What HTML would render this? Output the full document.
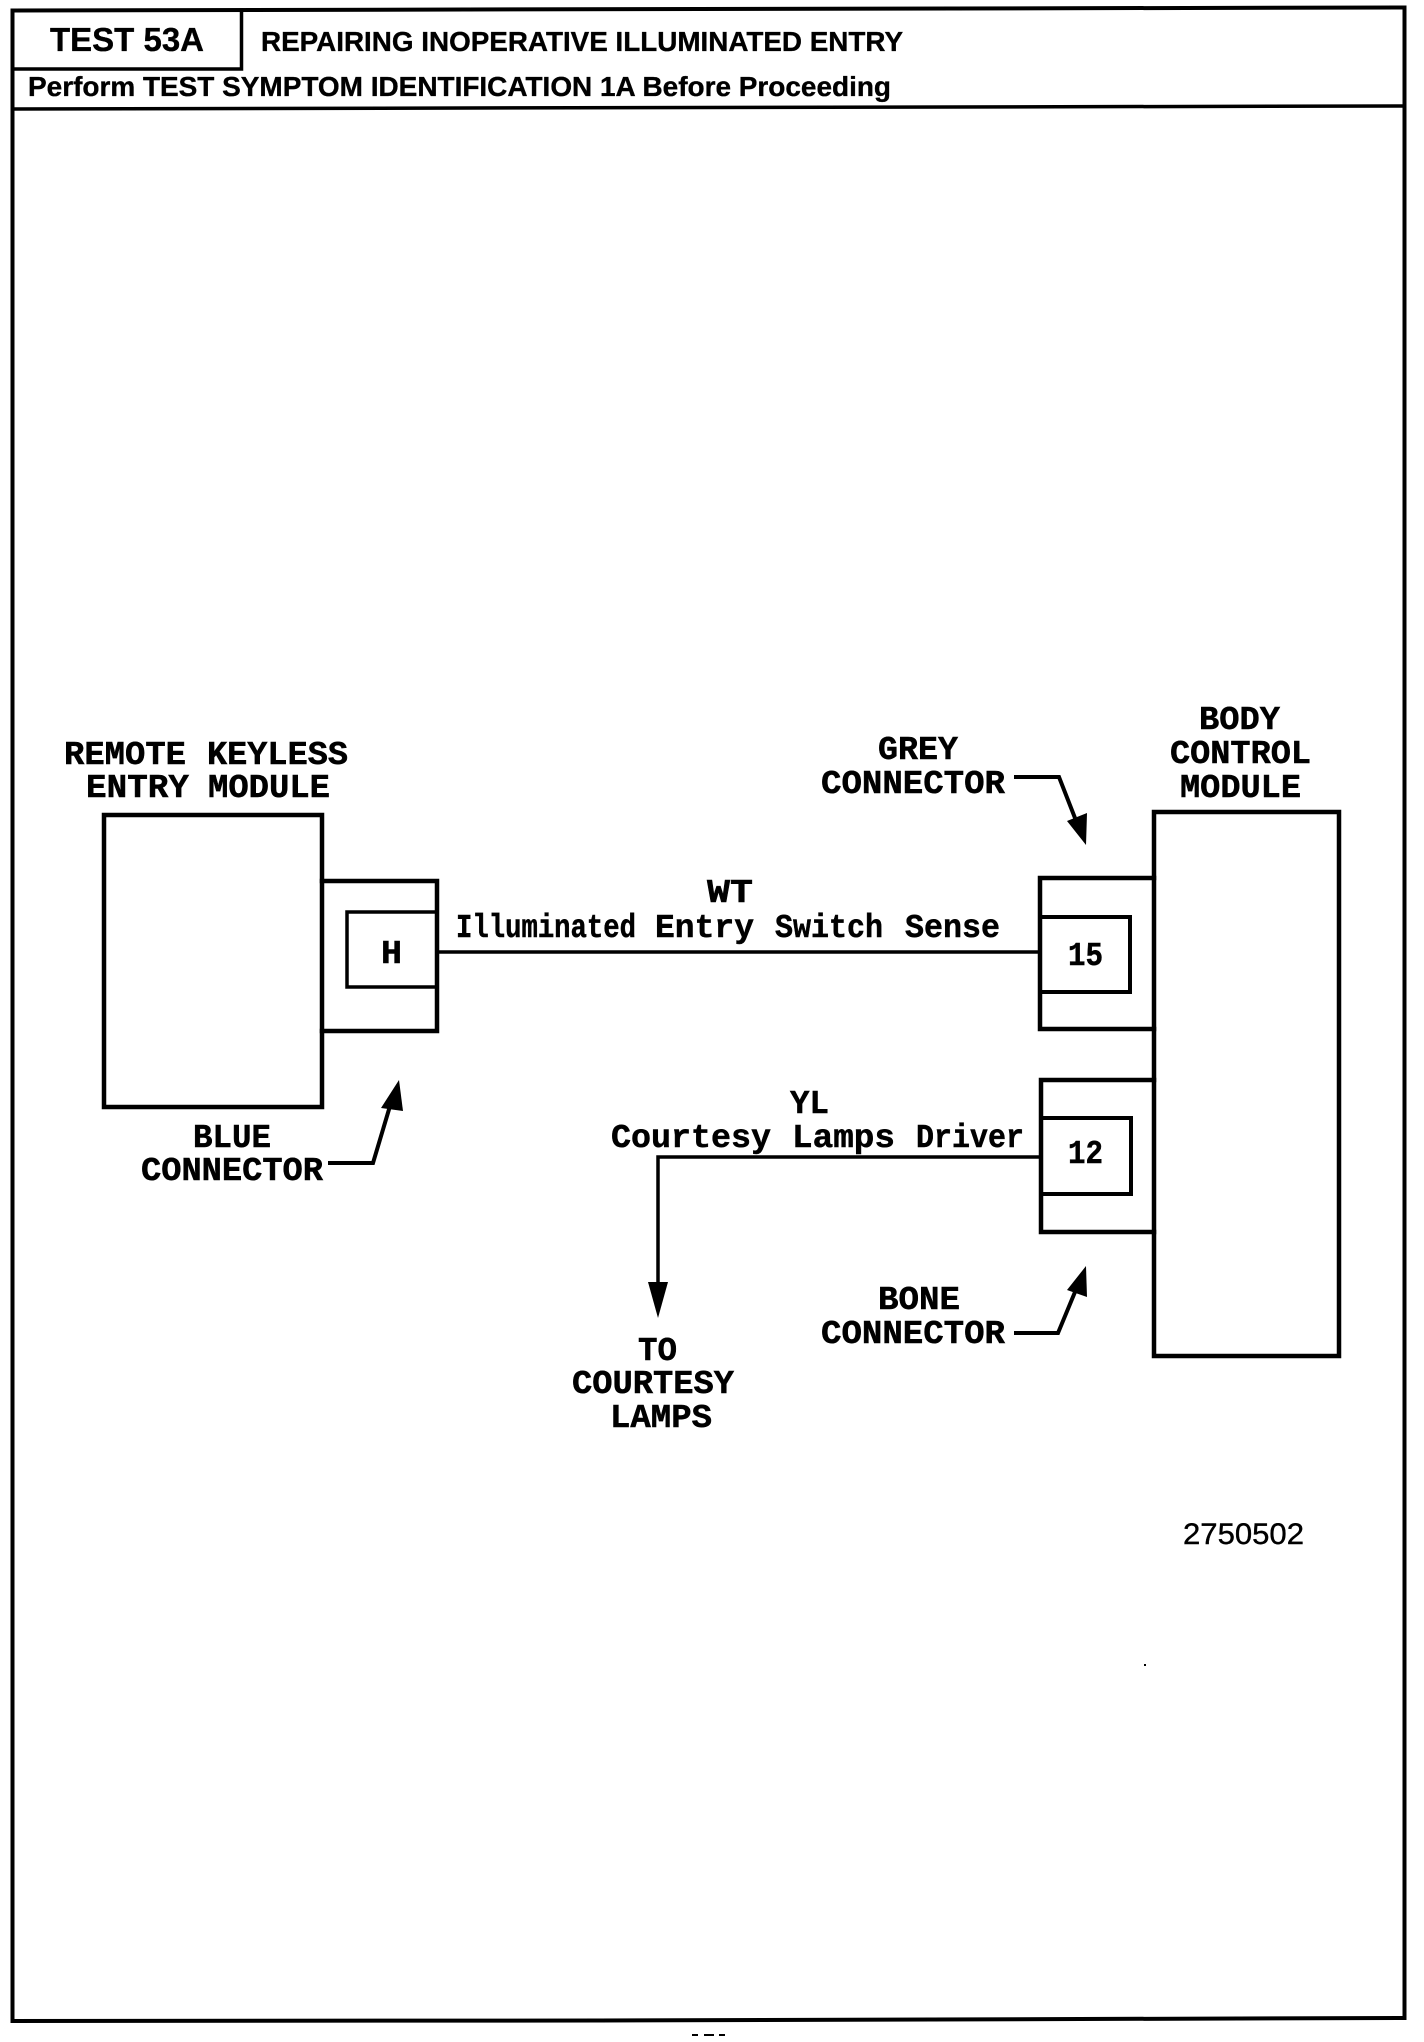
<!DOCTYPE html>
<html>
<head>
<meta charset="utf-8">
<style>
html,body{margin:0;padding:0;background:#fff;width:1424px;height:2042px;overflow:hidden}
svg{display:block}
.h{font-family:"Liberation Sans",sans-serif;font-weight:bold;fill:#000;stroke:#000;stroke-width:.35px}
.m{font-family:"Liberation Mono",monospace;font-weight:bold;font-size:33px;fill:#000;stroke:#000;stroke-width:.5px}
.l{fill:none;stroke:#000;stroke-linecap:square;stroke-linejoin:miter}
</style>
</head>
<body>
<svg width="1424" height="2042" viewBox="0 0 1424 2042" xmlns="http://www.w3.org/2000/svg">
<rect width="1424" height="2042" fill="#fff"/>
<!-- frame -->
<g class="l" stroke-width="3.5">
<path d="M12.5 10.5L1404.5 7.5V2018L600 2020.5L12.5 2021Z" stroke-width="4"/>
<path d="M12.5 69H241.5V10"/>
<path d="M12.5 109L1404.5 106"/>
</g>
<text class="h" x="50" y="51" font-size="33" textLength="154" lengthAdjust="spacingAndGlyphs">TEST 53A</text>
<text class="h" x="261" y="51" font-size="28" textLength="642" lengthAdjust="spacingAndGlyphs">REPAIRING INOPERATIVE ILLUMINATED ENTRY</text>
<text class="h" x="28" y="96" font-size="27.5" textLength="863" lengthAdjust="spacingAndGlyphs">Perform TEST SYMPTOM IDENTIFICATION 1A Before Proceeding</text>

<!-- left module -->
<g class="l">
<rect x="104" y="815" width="218" height="292" stroke-width="4.5"/>
<path d="M322 881H437V1031H322" stroke-width="4.5"/>
<path d="M437 912H347V987H437" stroke-width="3.5"/>
<path d="M437 952H1039" stroke-width="3.5"/>
</g>
<!-- right module -->
<g class="l">
<rect x="1154" y="812" width="185" height="544" stroke-width="4.5"/>
<path d="M1154 878H1040V1029H1154" stroke-width="4.5"/>
<path d="M1040 917H1130V992H1040" stroke-width="4"/>
<path d="M1154 1080H1041V1232H1154" stroke-width="4.5"/>
<path d="M1041 1118H1131V1194H1041" stroke-width="4"/>
<path d="M1041 1157H658V1290" stroke-width="3.5"/>
</g>
<!-- arrows -->
<polygon points="648,1282 668,1282 658,1318" fill="#000"/>
<path d="M328 1163H373L390 1106" fill="none" stroke="#000" stroke-width="4"/>
<polygon points="399,1080 381,1108 403,1111" fill="#000"/>
<path d="M1014 777H1059L1075 818" fill="none" stroke="#000" stroke-width="4"/>
<polygon points="1067,821 1087,813 1086,845" fill="#000"/>
<path d="M1014 1333H1058L1075 1292" fill="none" stroke="#000" stroke-width="4"/>
<polygon points="1086,1266 1067,1290 1087,1297" fill="#000"/>
<!-- specks -->
<rect x="1144" y="1664" width="2" height="2" fill="#000"/>
<rect x="692" y="2034" width="6" height="2" fill="#000"/>
<rect x="704" y="2034" width="10" height="2" fill="#000"/>
<rect x="719" y="2034" width="6" height="2" fill="#000"/>

<!-- labels -->
<g class="m">
<text x="64" y="764" textLength="122" lengthAdjust="spacingAndGlyphs">REMOTE</text>
<text x="207" y="764" textLength="141" lengthAdjust="spacingAndGlyphs">KEYLESS</text>
<text x="86" y="797" textLength="103" lengthAdjust="spacingAndGlyphs">ENTRY</text>
<text x="208" y="797" textLength="122" lengthAdjust="spacingAndGlyphs">MODULE</text>
<text x="193" y="1147" textLength="78" lengthAdjust="spacingAndGlyphs">BLUE</text>
<text x="141" y="1180" textLength="182" lengthAdjust="spacingAndGlyphs">CONNECTOR</text>
<text x="381" y="963" textLength="21" lengthAdjust="spacingAndGlyphs">H</text>
<text x="707" y="902" textLength="46" lengthAdjust="spacingAndGlyphs">WT</text>
<text x="456" y="937" textLength="180" lengthAdjust="spacingAndGlyphs">Illuminated</text>
<text x="655" y="937" textLength="99" lengthAdjust="spacingAndGlyphs">Entry</text>
<text x="775" y="937" textLength="108" lengthAdjust="spacingAndGlyphs">Switch</text>
<text x="905" y="937" textLength="95" lengthAdjust="spacingAndGlyphs">Sense</text>
<text x="790" y="1113" textLength="39" lengthAdjust="spacingAndGlyphs">YL</text>
<text x="611" y="1147" textLength="160" lengthAdjust="spacingAndGlyphs">Courtesy</text>
<text x="792" y="1147" textLength="103" lengthAdjust="spacingAndGlyphs">Lamps</text>
<text x="916" y="1147" textLength="108" lengthAdjust="spacingAndGlyphs">Driver</text>
<text x="878" y="759" textLength="80" lengthAdjust="spacingAndGlyphs">GREY</text>
<text x="821" y="793" textLength="184" lengthAdjust="spacingAndGlyphs">CONNECTOR</text>
<text x="1199" y="729" textLength="81" lengthAdjust="spacingAndGlyphs">BODY</text>
<text x="1170" y="763" textLength="141" lengthAdjust="spacingAndGlyphs">CONTROL</text>
<text x="1180" y="797" textLength="121" lengthAdjust="spacingAndGlyphs">MODULE</text>
<text x="1068" y="965" textLength="35" lengthAdjust="spacingAndGlyphs">15</text>
<text x="1068" y="1163" textLength="35" lengthAdjust="spacingAndGlyphs">12</text>
<text x="878" y="1309" textLength="82" lengthAdjust="spacingAndGlyphs">BONE</text>
<text x="821" y="1343" textLength="184" lengthAdjust="spacingAndGlyphs">CONNECTOR</text>
<text x="638" y="1360" textLength="39" lengthAdjust="spacingAndGlyphs">TO</text>
<text x="572" y="1393" textLength="162" lengthAdjust="spacingAndGlyphs">COURTESY</text>
<text x="610" y="1427" textLength="102" lengthAdjust="spacingAndGlyphs">LAMPS</text>
</g>
<text x="1183" y="1544" font-family="Liberation Sans, sans-serif" font-size="30" stroke="#000" stroke-width=".4" textLength="121" lengthAdjust="spacingAndGlyphs">2750502</text>
</svg>
</body>
</html>
